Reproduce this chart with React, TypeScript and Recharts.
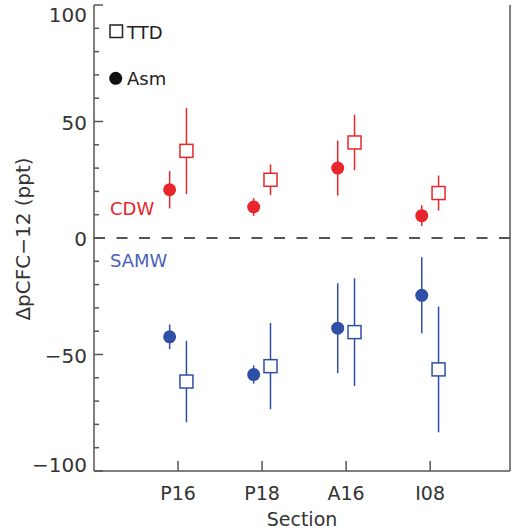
import React from "react";
import {
  ComposedChart,
  Scatter,
  ErrorBar,
  XAxis,
  YAxis,
  ReferenceLine,
  Label,
  Customized,
} from "recharts";

const sections = ["P16", "P18", "A16", "I08"];

const cdwAsm = [20.7, 13.3, 30.0, 9.6];
const cdwAsmErr = [8, 3.8, 11.8, 4.5];
const cdwTtd = [37.4, 25.0, 41.0, 19.3];
const cdwTtdErr = [18.5, 6.6, 11.9, 7.5];

const samwAsm = [-42.4, -58.6, -38.7, -24.6];
const samwAsmErr = [5.3, 3.9, 19.3, 16.3];
const samwTtd = [-61.6, -55.0, -40.4, -56.4];
const samwTtdErr = [17.5, 18.5, 23.1, 27];

const yTicks = [-100, -90, -80, -70, -60, -50, -40, -30, -20, -10, 0, 10, 20, 30, 40, 50, 60, 70, 80, 90, 100];

const RED = "#e8262b";
const BLUE = "#2f4fa6";
const AXIS = "#555";
const TEXT = "#333";
const FONT = "'DejaVu Sans', sans-serif";

// asm sits left of the section tick, ttd right of it
const DODGE = 0.1;

function build(values: number[], errs: number[], shift: number) {
  return values.map((v, i) => ({ x: i + 1 + shift, y: v, err: errs[i] }));
}

const cdwAsmData = build(cdwAsm, cdwAsmErr, -DODGE);
const cdwTtdData = build(cdwTtd, cdwTtdErr, DODGE);
const samwAsmData = build(samwAsm, samwAsmErr, -DODGE);
const samwTtdData = build(samwTtd, samwTtdErr, DODGE);

const dot = (color: string) => (p: any) => (
  <circle cx={p.cx} cy={p.cy} r={6.5} fill={color} />
);

const box = (color: string) => (p: any) => (
  <rect
    x={p.cx - 6.5}
    y={p.cy - 6.5}
    width={13}
    height={13}
    fill="#fff"
    stroke={color}
    strokeWidth={1.5}
  />
);

const LEFT_MARGIN = 8;

function LeftTick(p: any) {
  const v = p.payload.value;
  const ax = p.x + LEFT_MARGIN;
  const major = v % 50 === 0;
  // end labels are nudged inside the frame, like the original plot
  const dy = v === 100 ? 17 : v === -100 ? 1 : 8;
  return (
    <g>
      <line x1={ax} x2={ax + (major ? 9 : 5)} y1={p.y} y2={p.y} stroke={AXIS} strokeWidth={1.5} />
      {major && (
        <text x={p.x + 1} y={p.y} dy={dy} textAnchor="end" fontSize={20} fill={TEXT} fontFamily={FONT}>
          {v < 0 ? `\u2212${-v}` : v}
        </text>
      )}
    </g>
  );
}

function RightTick(p: any) {
  const v = p.payload.value;
  const major = v % 50 === 0;
  return (
    <line x1={p.x} x2={p.x - (major ? 9 : 5)} y1={p.y} y2={p.y} stroke={AXIS} strokeWidth={1.5} />
  );
}

const BOTTOM_MARGIN = 22;

function BottomTick(p: any) {
  const ay = p.y - BOTTOM_MARGIN;
  return (
    <g>
      <line x1={p.x} x2={p.x} y1={ay} y2={ay - 10} stroke={AXIS} strokeWidth={1.5} />
      <text x={p.x} y={p.y} dy={7} textAnchor="middle" fontSize={19} fill={TEXT} fontFamily={FONT}>
        {sections[p.payload.value - 1]}
      </text>
    </g>
  );
}

function TopTick(p: any) {
  return <line x1={p.x} x2={p.x} y1={p.y} y2={p.y + 10} stroke={AXIS} strokeWidth={1.5} />;
}

function Annotations() {
  return (
    <g fontFamily={FONT}>
      <rect x={110} y={25} width={12.5} height={12.5} fill="none" stroke="#222" strokeWidth={1.5} />
      <text x={127} y={38.5} fontSize={18} fill="#222">TTD</text>
      <circle cx={115.7} cy={78.3} r={6.5} fill="#111" />
      <text x={127} y={85} fontSize={18} fill="#222">Asm</text>
      <text x={110} y={215} fontSize={18} fill={RED}>CDW</text>
      <text x={110} y={267} fontSize={18} fill="#4a62b8">SAMW</text>
    </g>
  );
}

export default function App() {
  return (
    <div style={{ position: "absolute", left: 0, top: 0, background: "#fff" }}>
      <ComposedChart
        width={514}
        height={531}
        margin={{ top: 5, right: 0, bottom: 0, left: 0 }}
      >
        <XAxis
          xAxisId="b"
          type="number"
          dataKey="x"
          domain={[0, 4.95]}
          ticks={[1, 2, 3, 4]}
          allowDataOverflow
          height={60}
          tickSize={0}
          tickMargin={BOTTOM_MARGIN}
          tickLine={false}
          axisLine={{ stroke: AXIS, strokeWidth: 1.5 }}
          tick={<BottomTick />}
        >
          <Label
            content={(props: any) => {
              const vb = props.viewBox;
              return (
                <text
                  x={vb.x + vb.width / 2}
                  y={vb.y + 55}
                  textAnchor="middle"
                  fontSize={19}
                  fill={TEXT}
                  fontFamily={FONT}
                >
                  Section
                </text>
              );
            }}
          />
        </XAxis>
        <XAxis
          xAxisId="t"
          orientation="top"
          type="number"
          domain={[0, 4.95]}
          ticks={[1, 2, 3, 4]}
          allowDataOverflow
          height={0}
          tickSize={0}
          tickMargin={0}
          tickLine={false}
          axisLine={{ stroke: AXIS, strokeWidth: 1.5 }}
          tick={<TopTick />}
        />
        <YAxis
          yAxisId="l"
          type="number"
          domain={[-100, 100]}
          ticks={yTicks}
          interval={0}
          width={94}
          tickSize={0}
          tickMargin={LEFT_MARGIN}
          tickLine={false}
          axisLine={{ stroke: AXIS, strokeWidth: 1.5 }}
          tick={<LeftTick />}
        >
          <Label
            content={(props: any) => {
              const vb = props.viewBox;
              const cx = vb.x + 24;
              const cy = vb.y + vb.height / 2 + 1;
              return (
                <text
                  x={cx}
                  y={cy}
                  transform={`rotate(-90 ${cx} ${cy})`}
                  textAnchor="middle"
                  dominantBaseline="middle"
                  fontSize={20}
                  fill={TEXT}
                  fontFamily={FONT}
                >
                  {"\u0394pCFC\u221212 (ppt)"}
                </text>
              );
            }}
          />
        </YAxis>
        <YAxis
          yAxisId="r"
          orientation="right"
          type="number"
          domain={[-100, 100]}
          ticks={yTicks}
          interval={0}
          width={4}
          tickSize={0}
          tickMargin={0}
          tickLine={false}
          axisLine={{ stroke: AXIS, strokeWidth: 1.5 }}
          tick={<RightTick />}
        />
        <ReferenceLine
          xAxisId="b"
          yAxisId="l"
          y={0}
          stroke={AXIS}
          strokeWidth={2}
          strokeDasharray="11 11.5"
        />
        <Scatter xAxisId="b" yAxisId="l" data={cdwAsmData} dataKey="y" shape={dot(RED)} isAnimationActive={false}>
          <ErrorBar dataKey="err" direction="y" width={0} stroke={RED} strokeWidth={1.5} isAnimationActive={false} />
        </Scatter>
        <Scatter xAxisId="b" yAxisId="l" data={cdwTtdData} dataKey="y" shape={box(RED)} isAnimationActive={false}>
          <ErrorBar dataKey="err" direction="y" width={0} stroke={RED} strokeWidth={1.5} isAnimationActive={false} />
        </Scatter>
        <Scatter xAxisId="b" yAxisId="l" data={samwAsmData} dataKey="y" shape={dot(BLUE)} isAnimationActive={false}>
          <ErrorBar dataKey="err" direction="y" width={0} stroke={BLUE} strokeWidth={1.5} isAnimationActive={false} />
        </Scatter>
        <Scatter xAxisId="b" yAxisId="l" data={samwTtdData} dataKey="y" shape={box(BLUE)} isAnimationActive={false}>
          <ErrorBar dataKey="err" direction="y" width={0} stroke={BLUE} strokeWidth={1.5} isAnimationActive={false} />
        </Scatter>
        <Customized component={Annotations} />
      </ComposedChart>
    </div>
  );
}
